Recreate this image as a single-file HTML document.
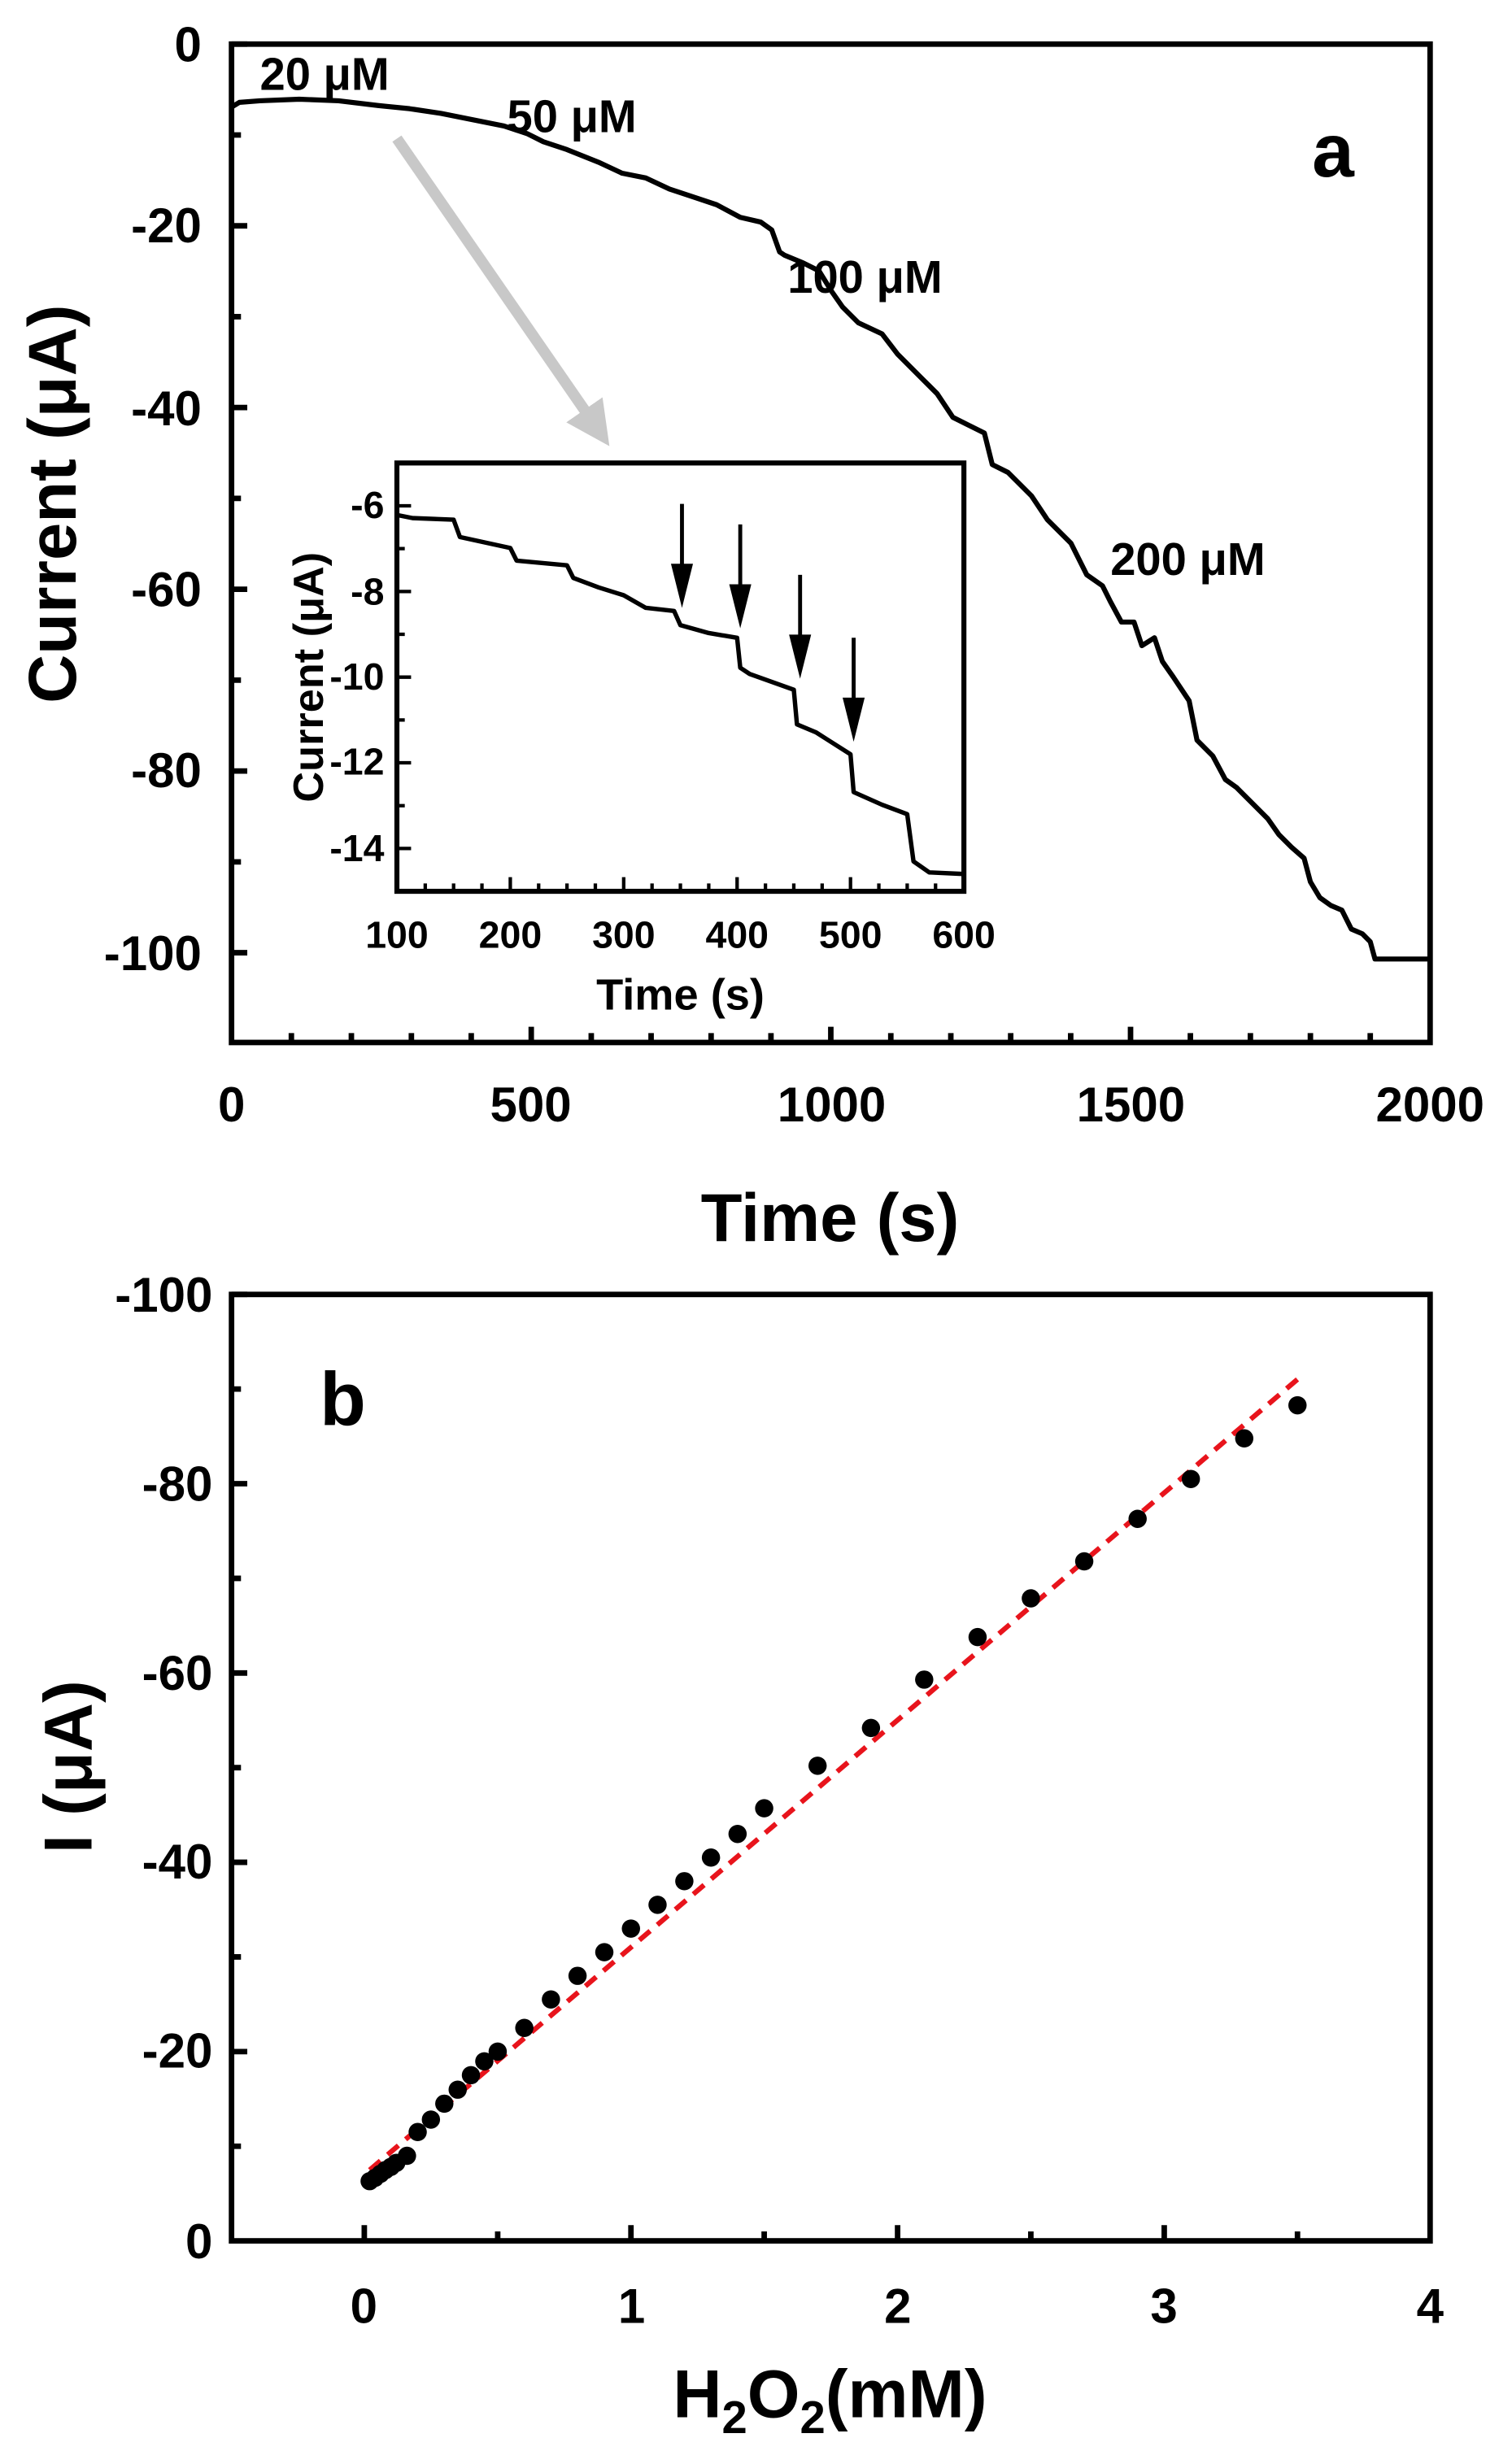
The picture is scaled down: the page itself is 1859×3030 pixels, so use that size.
<!DOCTYPE html>
<html><head><meta charset="utf-8"><style>html,body{margin:0;padding:0;background:#fff}svg{display:block}text{font-family:"Liberation Sans",Arial,sans-serif;font-weight:bold;fill:#000}</style></head>
<body>
<svg width="1859" height="3030" viewBox="0 0 960 1564.7" xmlns="http://www.w3.org/2000/svg">
<defs>
<marker id="gh" markerWidth="4" markerHeight="4" refX="1" refY="2" orient="auto" markerUnits="strokeWidth"><path d="M0,0 L4,2 L0,4 z" fill="#c8c8c8"/></marker>
</defs>
<!-- Panel a -->
<g stroke="#000" stroke-width="3.5" fill="none">
<rect x="147" y="28" width="761" height="634"/>
<path d="M147,28h10M147,143.4h10M147,258.8h10M147,374.2h10M147,489.6h10M147,605h10M147,85.7h6M147,201.1h6M147,316.5h6M147,431.9h6M147,547.3h6"/>
<path d="M337.3,662v-10M527.5,662v-10M717.8,662v-10M185,662v-6M223.1,662v-6M261.2,662v-6M299.2,662v-6M375.4,662v-6M413.4,662v-6M451.5,662v-6M489.5,662v-6M565.6,662v-6M603.7,662v-6M641.7,662v-6M679.8,662v-6M755.8,662v-6M793.9,662v-6M832,662v-6M870,662v-6"/>
</g>
<g stroke-width="3.2" stroke="#000" fill="none" stroke-linejoin="round">
<path d="M147,68 L152,65 L165,64 L190,63 L215,64 L240,67 L260,69 L280,72 L300,76 L320,80 L335,85 L345,90 L360,95 L380,103 L395,110 L410,113 L425,120 L440,125 L455,130 L470,138 L483,141 L490,146 L495,160 L498,162 L510,167 L520,172 L528,185 L535,195 L545,205 L560,212 L570,225 L585,240 L595,250 L605,265 L615,270 L625,275 L630,295 L640,300 L655,315 L665,330 L680,345 L690,365 L700,372 L705,382 L712,395 L720,395 L725,410 L733,405 L738,420 L745,430 L755,445 L760,470 L770,480 L778,495 L785,500 L795,510 L805,520 L812,530 L820,538 L828,545 L832,560 L838,570 L845,575 L852,578 L858,590 L865,593 L870,598 L873,609 L908,609"/>
</g>
<line x1="252" y1="88" x2="375" y2="266" stroke="#c8c8c8" stroke-width="7" marker-end="url(#gh)"/>
<text x="165" y="57" font-size="29">20 μM</text>
<text x="322" y="84" font-size="29">50 μM</text>
<text x="500" y="186" font-size="29">100 μM</text>
<text x="705" y="365" font-size="29">200 μM</text>
<text x="833" y="112" font-size="48">a</text>
<g font-size="31" text-anchor="end">
<text x="128" y="39">0</text><text x="128" y="154">-20</text><text x="128" y="270">-40</text><text x="128" y="385">-60</text><text x="128" y="500">-80</text><text x="128" y="616">-100</text>
</g>
<g font-size="31" text-anchor="middle">
<text x="147" y="712">0</text><text x="337" y="712">500</text><text x="528" y="712">1000</text><text x="718" y="712">1500</text><text x="908" y="712">2000</text>
</g>
<text x="527" y="788" font-size="43" text-anchor="middle">Time (s)</text>
<text transform="translate(48,320) rotate(-90)" font-size="43" text-anchor="middle">Current (μA)</text>
<!-- inset -->
<rect x="252" y="294" width="360" height="272" fill="#fff" stroke="#000" stroke-width="3.2"/>
<g stroke="#000" stroke-width="2.2" fill="none">
<path d="M324,566v-9M396,566v-9M468,566v-9M540,566v-9M270,566v-5M288,566v-5M306,566v-5M342,566v-5M360,566v-5M378,566v-5M414,566v-5M432,566v-5M450,566v-5M486,566v-5M504,566v-5M522,566v-5M558,566v-5M576,566v-5M594,566v-5"/>
<path d="M252,321.2h9M252,375.6h9M252,430h9M252,484.4h9M252,538.8h9M252,348.4h5M252,402.8h5M252,457.2h5M252,511.6h5"/>
</g>
<path stroke="#000" stroke-width="2.8" fill="none" stroke-linejoin="round" d="M252,327 L262,329 L288,330 L292,341 L324,348 L328,356 L360,359 L364,367 L380,373 L396,378 L410,386 L428,388 L432,397 L450,402 L468,405 L470,424 L476,428 L504,438 L506,460 L518,465 L540,479 L542,503 L560,511 L576,517 L580,547 L590,554 L612,555"/>
<g stroke="#000" stroke-width="2.5">
<line x1="433" y1="320" x2="433" y2="362"/><line x1="470" y1="333" x2="470" y2="375"/><line x1="508" y1="365" x2="508" y2="407"/><line x1="542" y1="405" x2="542" y2="447"/>
</g>
<g fill="#000">
<path d="M426,358 L440,358 L433,386z"/><path d="M463,371 L477,371 L470,399z"/><path d="M501,403 L515,403 L508,431z"/><path d="M535,443 L549,443 L542,471z"/>
</g>
<g font-size="24" text-anchor="end">
<text x="244" y="329">-6</text><text x="244" y="384">-8</text><text x="244" y="438">-10</text><text x="244" y="492">-12</text><text x="244" y="547">-14</text>
</g>
<g font-size="24" text-anchor="middle">
<text x="252" y="602">100</text><text x="324" y="602">200</text><text x="396" y="602">300</text><text x="468" y="602">400</text><text x="540" y="602">500</text><text x="612" y="602">600</text>
</g>
<text x="432" y="641" font-size="28" text-anchor="middle">Time (s)</text>
<text transform="translate(205,430) rotate(-90)" font-size="27" text-anchor="middle">Current (μA)</text>
<!-- Panel b -->
<g stroke="#000" stroke-width="3.5" fill="none">
<rect x="147" y="822" width="761" height="601"/>
<path d="M147,822h10M147,942.2h10M147,1062.4h10M147,1182.6h10M147,1302.8h10M147,882.1h6M147,1002.3h6M147,1122.5h6M147,1242.7h6M147,1362.9h6"/>
<path d="M231.3,1423v-10M400.6,1423v-10M569.9,1423v-10M739.2,1423v-10M316,1423v-6M485.2,1423v-6M654.5,1423v-6M823.8,1423v-6"/>
</g>
<line x1="234.7" y1="1378" x2="827.2" y2="873" stroke="#e8141c" stroke-width="3.2" stroke-dasharray="9,6"/>
<g fill="#000">
<circle cx="234.7" cy="1385.1" r="5.8"/><circle cx="238.1" cy="1383" r="5.8"/><circle cx="241.5" cy="1380.5" r="5.8"/><circle cx="244.8" cy="1378" r="5.8"/><circle cx="248.2" cy="1376" r="5.8"/><circle cx="251.6" cy="1373.5" r="5.8"/><circle cx="258.4" cy="1369" r="5.8"/>
<circle cx="265.2" cy="1353.9" r="5.8"/><circle cx="273.6" cy="1346" r="5.8"/><circle cx="282.1" cy="1335.9" r="5.8"/><circle cx="290.6" cy="1327" r="5.8"/><circle cx="299" cy="1317.8" r="5.8"/><circle cx="307.5" cy="1309" r="5.8"/><circle cx="316" cy="1302.8" r="5.8"/>
<circle cx="332.9" cy="1287.8" r="5.8"/><circle cx="349.8" cy="1269.7" r="5.8"/><circle cx="366.7" cy="1254.7" r="5.8"/><circle cx="383.7" cy="1239.7" r="5.8"/><circle cx="400.6" cy="1224.7" r="5.8"/><circle cx="417.5" cy="1209.6" r="5.8"/><circle cx="434.5" cy="1194.6" r="5.8"/><circle cx="451.4" cy="1179.6" r="5.8"/><circle cx="468.3" cy="1164.6" r="5.8"/><circle cx="485.2" cy="1148.3" r="5.8"/>
<circle cx="519.1" cy="1121.3" r="5.8"/><circle cx="553" cy="1097.3" r="5.8"/><circle cx="586.8" cy="1066.6" r="5.8"/><circle cx="620.7" cy="1039.6" r="5.8"/><circle cx="654.5" cy="1015" r="5.8"/><circle cx="688.4" cy="991.5" r="5.8"/><circle cx="722.3" cy="964.5" r="5.8"/><circle cx="756.1" cy="939.2" r="5.8"/><circle cx="790" cy="913.4" r="5.8"/><circle cx="823.8" cy="892.4" r="5.8"/>
</g>
<text x="203" y="905" font-size="48">b</text>
<g font-size="31" text-anchor="end">
<text x="135" y="833">-100</text><text x="135" y="953">-80</text><text x="135" y="1073">-60</text><text x="135" y="1193">-40</text><text x="135" y="1313">-20</text><text x="135" y="1434">0</text>
</g>
<g font-size="31" text-anchor="middle">
<text x="231" y="1475">0</text><text x="401" y="1475">1</text><text x="570" y="1475">2</text><text x="739" y="1475">3</text><text x="908" y="1475">4</text>
</g>
<text x="527" y="1535" font-size="43" text-anchor="middle">H<tspan font-size="29" dy="10">2</tspan><tspan dy="-10">O</tspan><tspan font-size="29" dy="10">2</tspan><tspan dy="-10">(mM)</tspan></text>
<text transform="translate(58,1122) rotate(-90)" font-size="43" text-anchor="middle">I (μA)</text>
</svg>
</body></html>
